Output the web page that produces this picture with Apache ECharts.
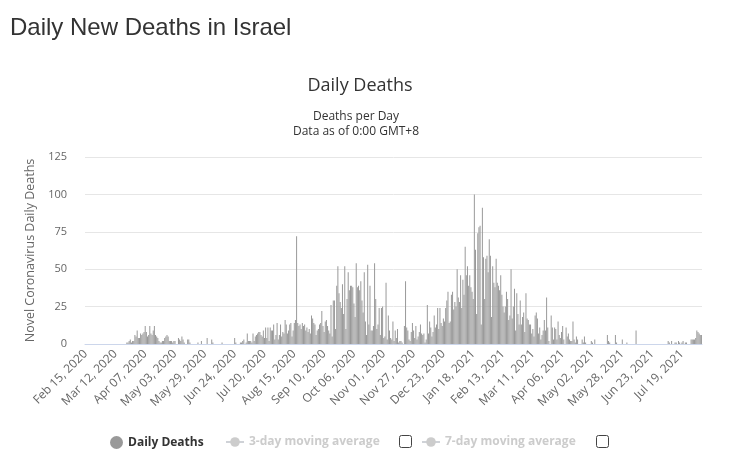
<!DOCTYPE html>
<html>
<head>
<meta charset="utf-8">
<script src="https://cdn.jsdelivr.net/npm/echarts@6/dist/echarts.min.js"></script>
<style>
html,body{margin:0;padding:0;background:#fff;}
#chart{width:732px;height:464px;}
</style>
</head>
<body>
<div id="chart"></div>
<script>
// Daily deaths, one value per day starting Feb 15, 2020
var startDate = [2020, 1, 15]; // year, monthIndex, day
var deathsFebToMay2020 = [
  0,0,0,0,0,0,0,0,0,0,
  0,0,0,0,0,0,0,0,0,0,
  0,0,0,0,0,0,0,0,0,0,
  0,0,0,0,0,0,1,1,2,3,
  1,2,2,6,5,9,4,4,7,6,
  7,8,12,8,5,6,12,7,6,9,
  12,6,5,4,2,1,1,2,2,4,
  5,6,5,2,2,2,1,2,2,0,
  0,4,3,2,5,3,1,0,0,3,
  3,1,0,0,0,0,0,0,1,0,
  0,2,0,0,0,0
];
var deathsJunToAug2020 = [
  4,0,0,0,3,1,0,0,0,0,
  0,0,0,1,0,0,0,0,0,0,
  0,0,0,0,4,1,0,0,0,1,
  1,2,3,0,1,7,2,2,2,1,
  7,2,5,6,7,8,8,6,5,9,
  4,11,4,11,2,11,9,9,13,3,
  6,14,3,6,13,5,8,7,16,13,
  7,9,13,14,5,9,14,16,72,14,
  12,13,10,14,12,13
];
var deathsAugToOct2020 = [
  9,11,8,10,7,19,17,14,13,6,
  9,10,13,14,22,12,8,15,16,12,
  9,7,26,5,29,29,10,39,52,34,
  28,24,40,20,52,10,30,48,36,39,
  39,38,27,18,54,38,39,36,42,29,
  21,48,15,6,53,13,39,9,9,12,
  54,30,10,13,24
];
var deathsOctToDec2020 = [
  6,24,25,4,5,41,3,19,9,4,
  3,15,2,9,4,10,1,2,2,1,
  0,12,42,11,9,3,2,8,14,9,
  4,12,3,5,8,13,7,6,7,1,
  3,26,7,15,11,5,8,19,11,13,
  24,10,24,14,12,17,15,24,29,35,
  14,15,33,35,23
];
var deathsJanToFeb2021 = [
  28,25,50,31,28,46,24,43,33,65,
  46,52,39,46,38,35,30,100,63,20,
  74,78,79,13,91,58,30,57,59,48,
  70,59,18,52,41,38,57,41,39,36,
  46,33,25,21,25,35,30,16,19,50,
  17,25,37,9,34,20,13,29,13,18,
  21,8,34,17,16,13,13,7,10,5
];
var deathsMarToMay2021 = [
  19,21,17,7,11,3,6,9,16,9,
  31,11,2,0,19,11,3,11,10,3,
  15,6,4,8,12,3,0,11,5,7,
  3,2,2,15,3,1,5,3,0,0,
  0,3,1,5,1,0,0,0,0,2,
  1,0,3,0,0,0,0,0,0,0,
  0,0,0,6,2,1,0,0,0,0,
  6,1
];
var deathsMayToAug2021 = [
  0,0,0,0,3,0,0,0,1,0,
  0,0,0,0,0,0,9,0,0,0,
  0,0,0,0,0,0,0,0,0,0,
  0,0,0,0,0,0,0,0,0,0,
  0,0,0,0,2,1,0,2,0,0,
  1,1,0,2,1,0,1,2,0,1,
  1,0,0,0,3,3,3,3,4,9,
  8,7,6,6
];
var yTicks = [0, 25, 50, 75, 100, 125];

var dailyDeaths = [].concat(deathsFebToMay2020, deathsJunToAug2020, deathsAugToOct2020,
  deathsOctToDec2020, deathsJanToFeb2021, deathsMarToMay2021, deathsMayToAug2021);

var monthNames = ['Jan','Feb','Mar','Apr','May','Jun','Jul','Aug','Sep','Oct','Nov','Dec'];
var dates = [];
for (var i = 0; i < dailyDeaths.length; i++) {
  var d = new Date(Date.UTC(startDate[0], startDate[1], startDate[2] + i));
  var dd = d.getUTCDate();
  dates.push(monthNames[d.getUTCMonth()] + ' ' + (dd < 10 ? '0' + dd : dd) + ', ' + d.getUTCFullYear());
}

var chart = echarts.init(document.getElementById('chart'));
var font = '"Open Sans", "DejaVu Sans", sans-serif';
chart.setOption({
  animation: false,
  title: [
    {text: 'Daily New Deaths in Israel', left: 10, top: 16, padding: 0,
     textStyle: {fontFamily: '"Liberation Sans", Arial, sans-serif', fontSize: 24, fontWeight: 'normal', color: '#333'}},
    {text: 'Daily Deaths', left: 360, top: 77, padding: 0, textAlign: 'center',
     textStyle: {fontFamily: font, fontSize: 18, fontWeight: 'normal', color: '#333'}},
    {text: 'Deaths per Day', left: 356, top: 111, padding: 0, textAlign: 'center',
     textStyle: {fontFamily: font, fontSize: 12, fontWeight: 'normal', color: '#333'}},
    {text: 'Data as of 0:00 GMT+8', left: 356, top: 126, padding: 0, textAlign: 'center',
     textStyle: {fontFamily: font, fontSize: 12, fontWeight: 'normal', color: '#333'}}
  ],
  grid: {left: 85, right: 30, top: 157, bottom: 120, containLabel: false},
  xAxis: {
    type: 'category',
    data: dates,
    boundaryGap: true,
    axisLine: {lineStyle: {color: '#ccd6eb'}},
    axisTick: {show: false},
    axisLabel: {interval: 25, rotate: 45, color: '#666', fontSize: 12, fontFamily: font, margin: 8}
  },
  yAxis: {
    type: 'value',
    min: yTicks[0],
    max: yTicks[yTicks.length - 1],
    interval: yTicks[1] - yTicks[0],
    name: 'Novel Coronavirus Daily Deaths',
    nameLocation: 'middle',
    nameGap: 48,
    nameTextStyle: {color: '#666', fontSize: 12.5, fontFamily: font},
    axisLine: {show: false},
    axisTick: {show: false},
    axisLabel: {color: '#666', fontSize: 11, fontFamily: font, margin: 18},
    splitLine: {lineStyle: {color: '#e6e6e6'}}
  },
  legend: [
    {data: [{name: 'Daily Deaths', icon: 'circle'}], left: 105, top: 431, itemWidth: 13, itemHeight: 13, itemGap: 0,
     textStyle: {fontFamily: font, fontSize: 12, fontWeight: 'bold', color: '#333'}, inactiveColor: '#ccc'},
    {data: ['3-day moving average'], left: 220, top: 431, itemWidth: 18, itemHeight: 12,
     textStyle: {fontFamily: font, fontSize: 12, fontWeight: 'bold', color: '#333'}, inactiveColor: '#ccc',
     selected: {'3-day moving average': false}},
    {data: ['7-day moving average'], left: 416, top: 431, itemWidth: 18, itemHeight: 12,
     textStyle: {fontFamily: font, fontSize: 12, fontWeight: 'bold', color: '#333'}, inactiveColor: '#ccc',
     selected: {'7-day moving average': false}}
  ],
  graphic: [
    {type: 'rect', left: 399, top: 435, shape: {width: 12, height: 12, r: 2},
     style: {fill: '#fff', stroke: '#444', lineWidth: 1}},
    {type: 'rect', left: 596, top: 435, shape: {width: 12, height: 12, r: 2},
     style: {fill: '#fff', stroke: '#444', lineWidth: 1}}
  ],
  series: [
    {name: 'Daily Deaths', type: 'bar', data: dailyDeaths, barCategoryGap: '15%',
     itemStyle: {color: '#999999'}},
    {name: '3-day moving average', type: 'line', data: [], symbol: 'circle', itemStyle: {color: '#ccc'}},
    {name: '7-day moving average', type: 'line', data: [], symbol: 'circle', itemStyle: {color: '#ccc'}}
  ]
});
</script>
</body>
</html>
